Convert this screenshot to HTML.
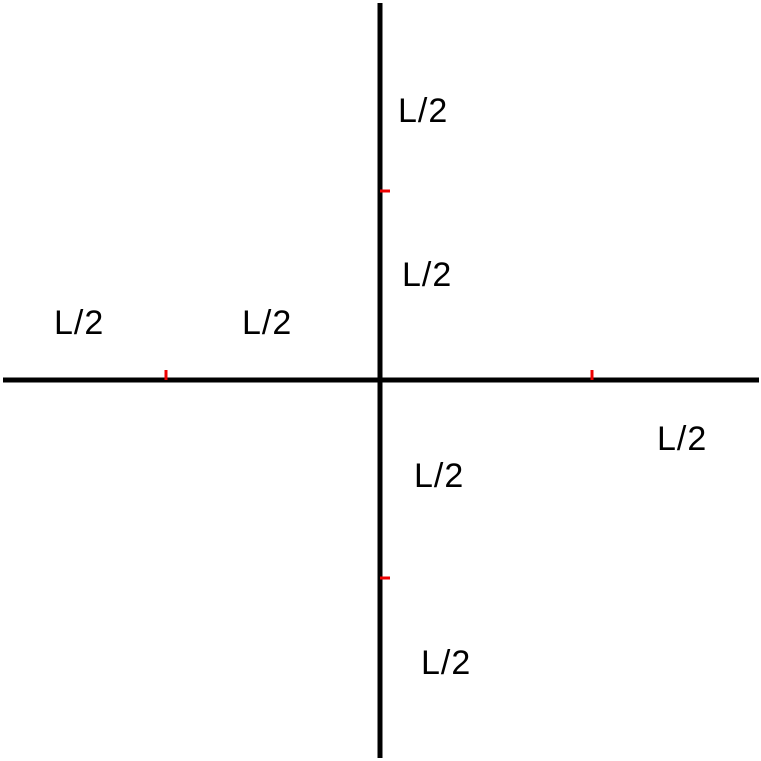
<!DOCTYPE html>
<html>
<head>
<meta charset="utf-8">
<style>
html,body{margin:0;padding:0;background:#fff;}
svg{display:block;}
text{font-family:"Liberation Sans",sans-serif;font-size:34px;fill:#000;letter-spacing:1px;}
</style>
</head>
<body>
<svg width="761" height="761" viewBox="0 0 761 761">
  <line x1="380" y1="3" x2="380" y2="758" stroke="#000" stroke-width="5"/>
  <line x1="3" y1="380" x2="759" y2="380" stroke="#000" stroke-width="5"/>
  <line x1="166" y1="370" x2="166" y2="380" stroke="#e00" stroke-width="3"/>
  <line x1="592" y1="370" x2="592" y2="380" stroke="#e00" stroke-width="3"/>
  <line x1="380" y1="191" x2="390" y2="191" stroke="#e00" stroke-width="3"/>
  <line x1="380" y1="578" x2="390" y2="578" stroke="#e00" stroke-width="3"/>
  <text x="398" y="122">L/2</text>
  <text x="402" y="286">L/2</text>
  <text x="54" y="334">L/2</text>
  <text x="242" y="334">L/2</text>
  <text x="657" y="450">L/2</text>
  <text x="414" y="487">L/2</text>
  <text x="421" y="674">L/2</text>
</svg>
</body>
</html>
